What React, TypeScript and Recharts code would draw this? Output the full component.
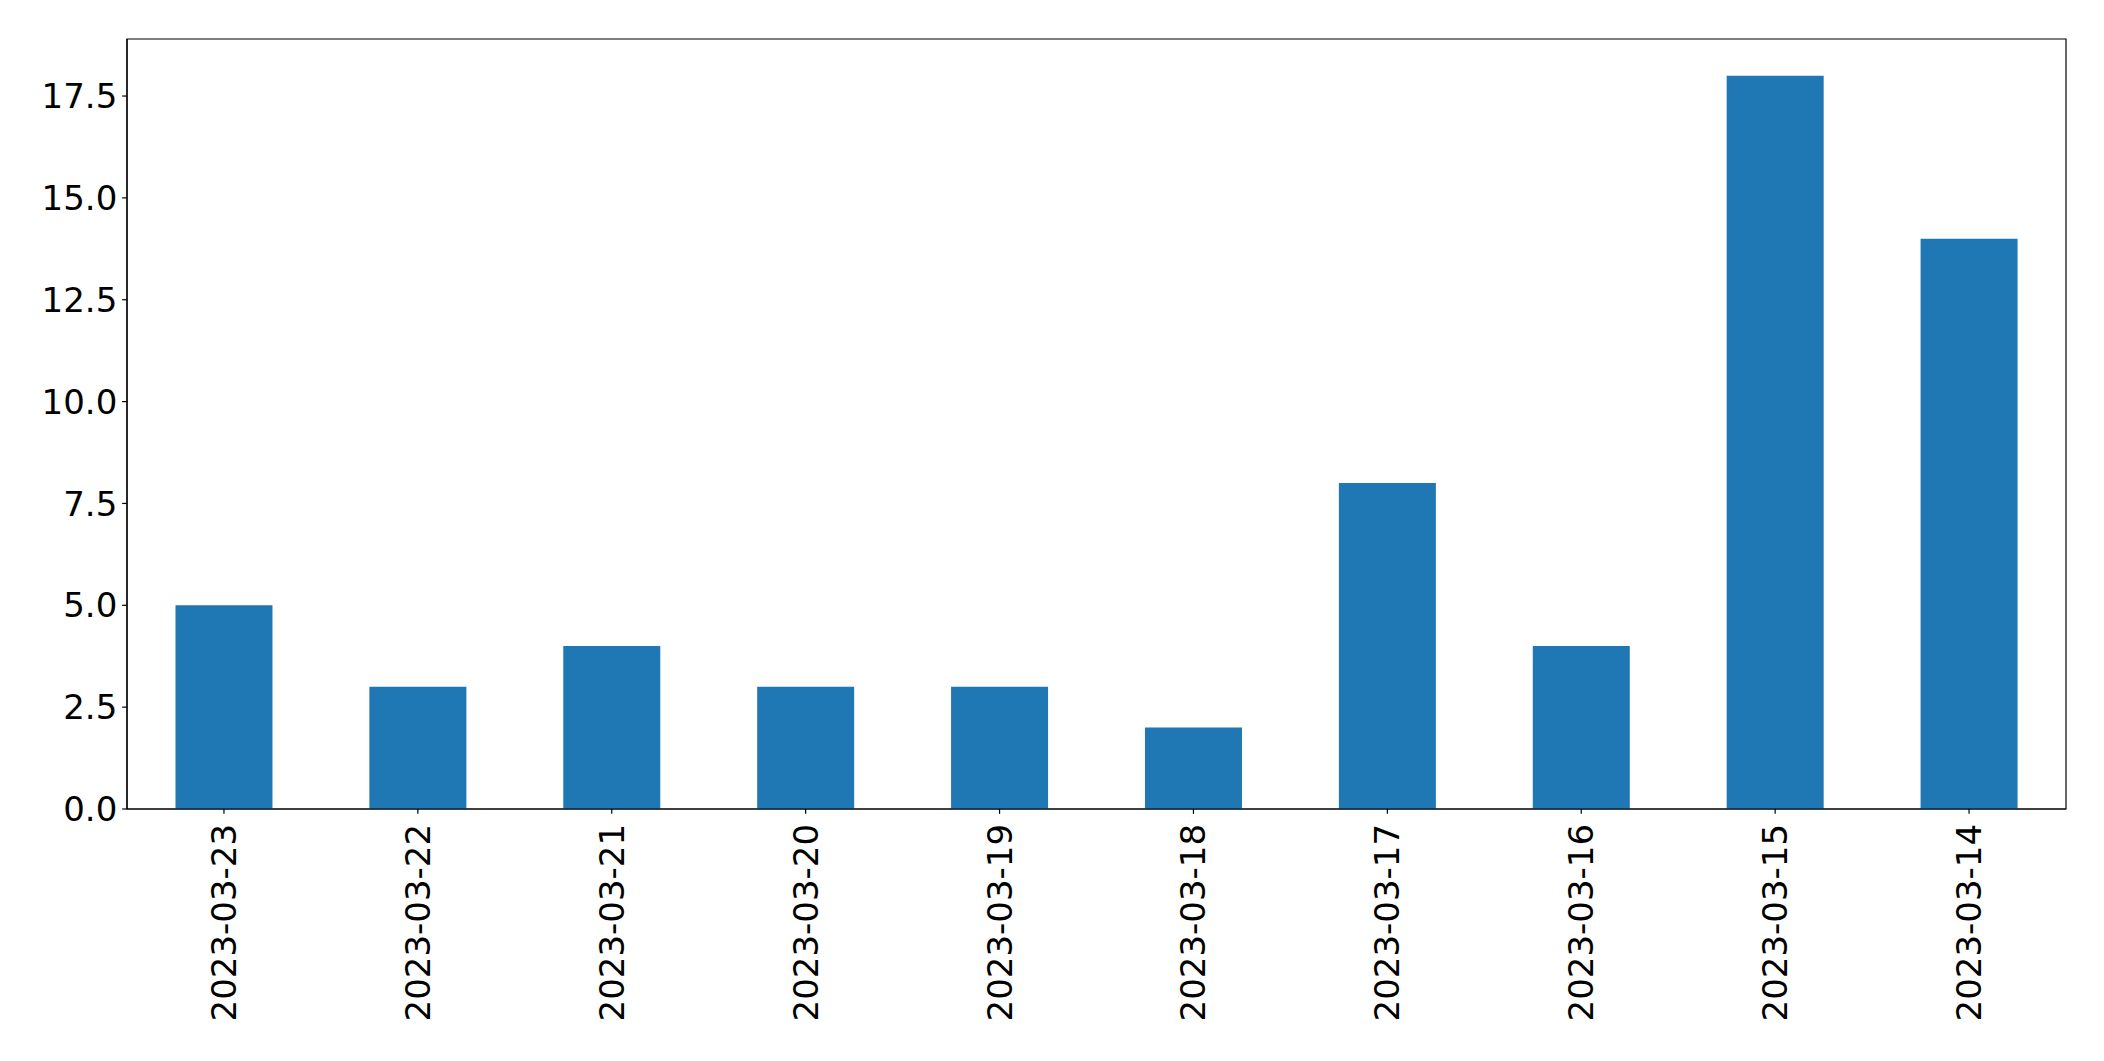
import React from 'react';
import { BarChart, Bar, XAxis, YAxis, ReferenceArea } from 'recharts';

const categories = ['2023-03-23', '2023-03-22', '2023-03-21', '2023-03-20', '2023-03-19', '2023-03-18', '2023-03-17', '2023-03-16', '2023-03-15', '2023-03-14'];
const counts = [5, 3, 4, 3, 3, 2, 8, 4, 18, 14];
const yTicks = [0, 2.5, 5, 7.5, 10, 12.5, 15, 17.5];
const yMax = 18.9;

const data = categories.map((c, i) => ({ date: c, count: counts[i] }));

const FONT = 'DejaVu Sans';
const FS = 34;
const TICK = 4.86;

const XTick = (props: any) => {
  const { x, y, payload } = props;
  return (
    <text
      x={x}
      y={y + 10}
      transform={`rotate(-90, ${x}, ${y + 10})`}
      textAnchor="end"
      dominantBaseline="central"
      fontFamily={FONT}
      fontSize={FS}
      fill="#000"
    >
      {payload.value}
    </text>
  );
};

export default function App() {
  return (
    <div style={{ position: 'absolute', left: 0, top: 0, width: 2104, height: 1061, background: '#fff' }}>
      <BarChart
        width={2104}
        height={1061}
        data={data}
        margin={{ top: 39, right: 38, bottom: 0, left: 0 }}
        barCategoryGap="25%"
      >
        <XAxis
          dataKey="date"
          height={252}
          interval={0}
          tickSize={TICK}
          tickMargin={0}
          tick={<XTick />}
          axisLine={{ stroke: '#000', strokeWidth: 1.2 }}
          tickLine={{ stroke: '#000', strokeWidth: 1.2 }}
        />
        <YAxis
          width={127}
          domain={[0, yMax]}
          ticks={yTicks}
          interval={0}
          tickSize={TICK}
          tickMargin={TICK}
          tickFormatter={(v: number) => v.toFixed(1)}
          tick={{ fontFamily: FONT, fontSize: FS, fill: '#000' }}
          axisLine={{ stroke: '#000', strokeWidth: 1.2 }}
          tickLine={{ stroke: '#000', strokeWidth: 1.2 }}
        />
        <Bar dataKey="count" fill="#1f77b4" isAnimationActive={false} />
        <ReferenceArea
          x1={categories[0]}
          x2={categories[categories.length - 1]}
          y1={0}
          y2={yMax}
          fill="none"
          fillOpacity={0}
          stroke="#000"
          strokeWidth={1.2}
          ifOverflow="visible"
        />
      </BarChart>
    </div>
  );
}
